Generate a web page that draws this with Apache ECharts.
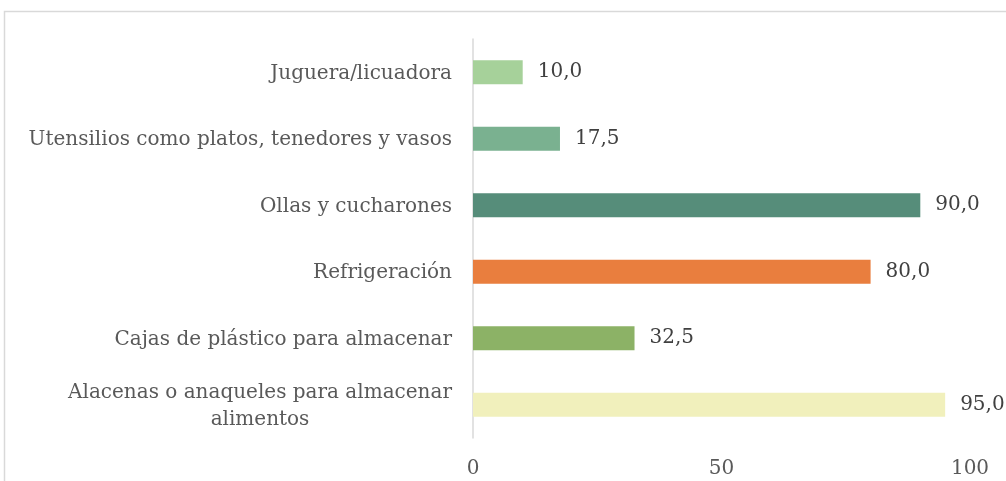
<!DOCTYPE html>
<html lang="es">
<head>
    <meta charset="UTF-8">
    <title>Equipamiento de cocina</title>
    <script src="https://cdn.jsdelivr.net/npm/echarts@6/dist/echarts.min.js"></script>
    <style>
        html, body { margin: 0; padding: 0; background: #fff; }
    </style>
</head>
<body>
    <div id="main" style="width: 1006px;height:481px;"></div>
    <script>
        // categorias de arriba hacia abajo
        const categories = [
            'Juguera/licuadora',
            'Utensilios como platos, tenedores y vasos',
            'Ollas y cucharones',
            'Refrigeración',
            'Cajas de plástico para almacenar',
            'Alacenas o anaqueles para almacenar\nalimentos'
        ];
        const values = [10.0, 17.5, 90.0, 80.0, 32.5, 95.0];
        const barColors = ['#a6d19a', '#7ab190', '#568d7a', '#e97e3e', '#8cb266', '#f1f0bc'];
        const xTicks = [0, 50, 100];

        var myChart = echarts.init(document.getElementById('main'));

        var option = {
            animation: false,
            graphic: [{
                type: 'rect',
                shape: { x: 4.5, y: 11.5, width: 1100, height: 600 },
                style: { fill: 'none', stroke: '#d9d9d9', lineWidth: 1.5 }
            }],
            grid: { left: 473, right: 36, top: 39, bottom: 43 },
            xAxis: {
                type: 'value',
                min: xTicks[0],
                max: xTicks[xTicks.length - 1],
                interval: 50,
                axisLine: { show: false },
                axisTick: { show: false },
                splitLine: { show: false },
                axisLabel: {
                    color: '#595959',
                    fontFamily: 'DejaVu Serif',
                    fontSize: 20,
                    margin: 21
                }
            },
            yAxis: {
                type: 'category',
                inverse: true,
                data: categories,
                axisLine: { show: true, lineStyle: { color: '#d9d9d9', width: 1.5 } },
                axisTick: { show: false },
                axisLabel: {
                    color: '#595959',
                    fontFamily: 'DejaVu Serif',
                    fontSize: 20,
                    margin: 21,
                    lineHeight: 27,
                    padding: [3, 0, 0, 0],
                    formatter: function (v) {
                        return v.indexOf('\n') >= 0 ? '{c|' + v + '}' : v;
                    },
                    rich: {
                        c: {
                            width: 384,
                            align: 'center',
                            color: '#595959',
                            fontFamily: 'DejaVu Serif',
                            fontSize: 20,
                            lineHeight: 27
                        }
                    }
                }
            },
            series: [{
                type: 'bar',
                barWidth: 24,
                data: values.map(function (v, i) {
                    return { value: v, itemStyle: { color: barColors[i] } };
                }),
                label: {
                    show: true,
                    position: 'right',
                    distance: 15,
                    color: '#404040',
                    fontFamily: 'DejaVu Serif',
                    fontSize: 20,
                    formatter: function (p) {
                        return p.value.toFixed(1).replace('.', ',');
                    }
                }
            }]
        };

        myChart.setOption(option);
    </script>
</body>
</html>
